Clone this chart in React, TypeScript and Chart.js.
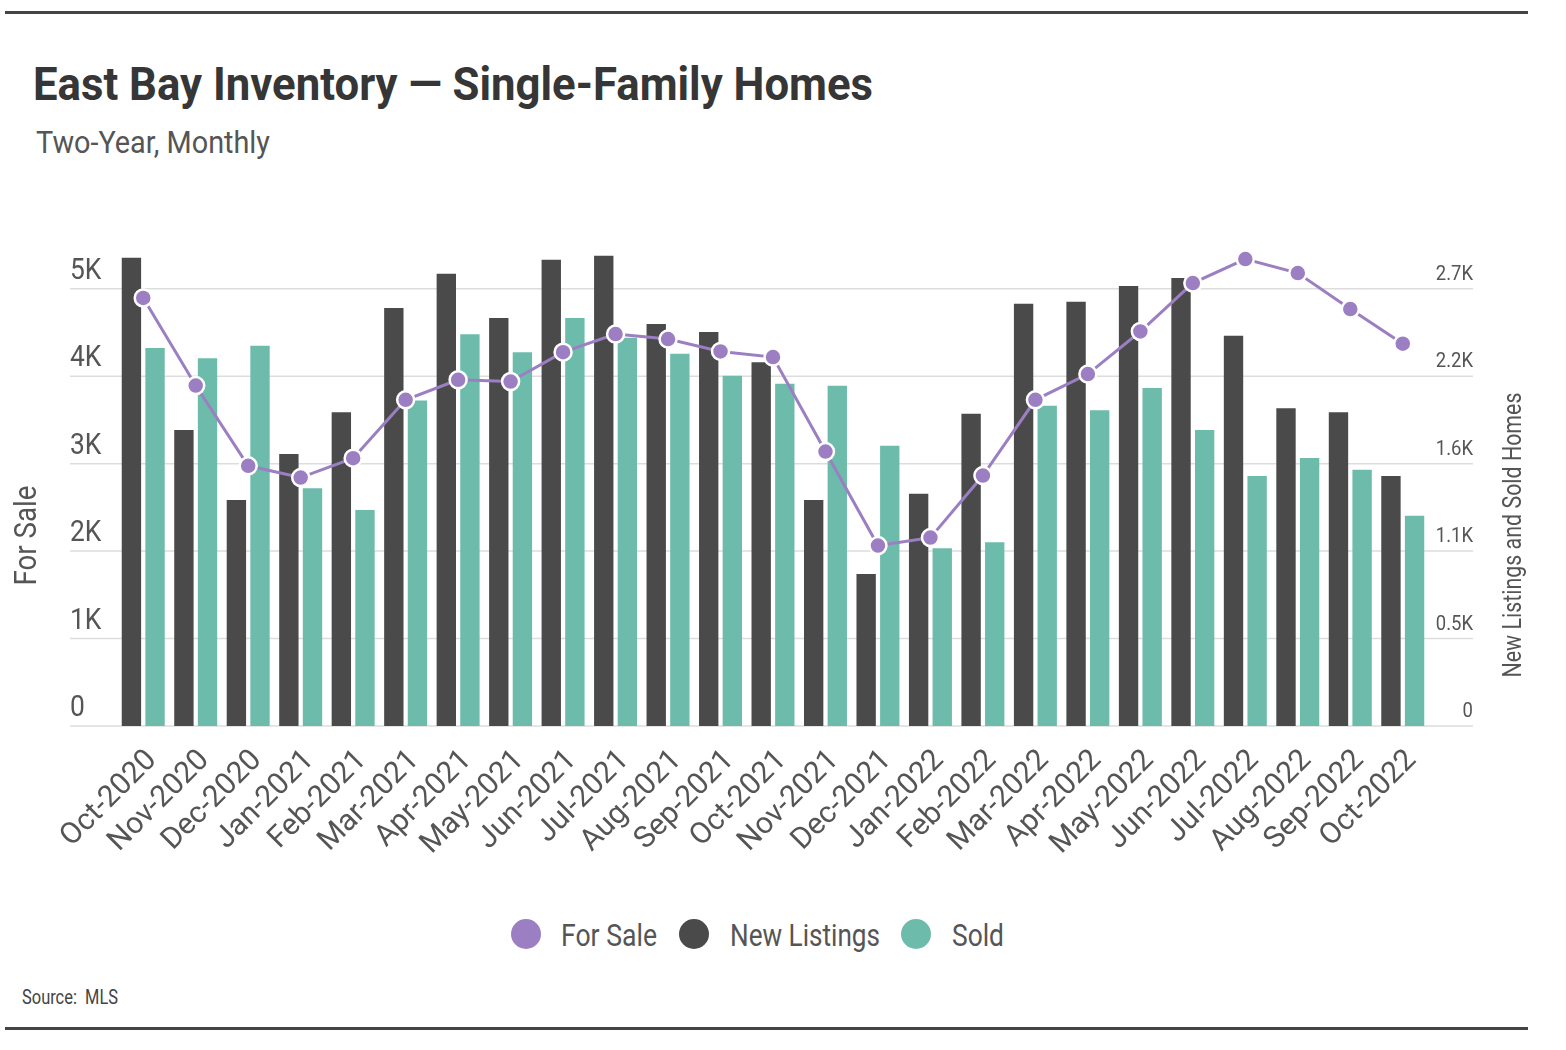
import React, { useEffect, useRef } from 'react';
import { Chart, registerables } from 'chart.js';

Chart.register(...registerables);

const MONTHS = ['Oct-2020', 'Nov-2020', 'Dec-2020', 'Jan-2021', 'Feb-2021', 'Mar-2021', 'Apr-2021', 'May-2021', 'Jun-2021', 'Jul-2021', 'Aug-2021', 'Sep-2021', 'Oct-2021', 'Nov-2021', 'Dec-2021', 'Jan-2022', 'Feb-2022', 'Mar-2022', 'Apr-2022', 'May-2022', 'Jun-2022', 'Jul-2022', 'Aug-2022', 'Sep-2022', 'Oct-2022'];
const FOR_SALE = [4894, 3893, 2975, 2841, 3062, 3730, 3959, 3939, 4275, 4481, 4424, 4283, 4218, 3138, 2063, 2154, 2864, 3730, 4024, 4511, 5065, 5339, 5179, 4767, 4371];
const NEW_LISTINGS = [2910, 1840, 1405, 1691, 1950, 2597, 2810, 2535, 2898, 2922, 2498, 2448, 2261, 1405, 945, 1443, 1940, 2624, 2636, 2734, 2784, 2425, 1975, 1950, 1554];
const SOLD = [2349, 2286, 2363, 1478, 1343, 2023, 2435, 2323, 2535, 2413, 2313, 2176, 2127, 2114, 1741, 1105, 1142, 1990, 1963, 2100, 1840, 1554, 1666, 1592, 1306];
const LEFT_TICKS = [0, 1000, 2000, 3000, 4000, 5000];
const LEFT_TICK_LABELS = ['0', '1K', '2K', '3K', '4K', '5K'];
const RIGHT_TICKS = [0, 543.5, 1087, 1630.5, 2174, 2717.5];
const RIGHT_TICK_LABELS = ['0', '0.5K', '1.1K', '1.6K', '2.2K', '2.7K'];
const LEFT_MAX = 5500;
const RIGHT_MAX = 2989.25;

const FONT = 'Roboto, "Noto Sans", sans-serif';
const PURPLE = '#9c7fc2';
const DARK = '#4a4a4a';
const TEAL = '#6dbcab';
const TEXT = '#555555';

const CANVAS_TOP = 180;
const CANVAS_W = 1566;
const CANVAS_H = 700;

let measureCtx: CanvasRenderingContext2D | null = null;
function measure(text: string, font: string): number {
  if (!measureCtx) measureCtx = document.createElement('canvas').getContext('2d');
  measureCtx!.font = font;
  return measureCtx!.measureText(text).width;
}

function fillFitted(ctx: CanvasRenderingContext2D, text: string, width: number) {
  const w = ctx.measureText(text).width;
  const s = width / w;
  ctx.save();
  ctx.scale(s, 1);
  ctx.fillText(text, 0, 0);
  ctx.restore();
}

const axisPlugin = {
  id: 'customAxes',
  beforeDatasetsDraw(chart: any) {
    const ctx = chart.ctx as CanvasRenderingContext2D;
    const yL = chart.scales.yL;
    const yR = chart.scales.yR;
    ctx.save();
    LEFT_TICKS.forEach((v, i) => {
      const y = yL.getPixelForValue(v);
      ctx.strokeStyle = '#dddddd';
      ctx.lineWidth = 1.5;
      ctx.beginPath();
      ctx.moveTo(70, y);
      ctx.lineTo(1473, y);
      ctx.stroke();
      ctx.fillStyle = TEXT;
      ctx.font = `30px ${FONT}`;
      ctx.textAlign = 'left';
      ctx.textBaseline = 'alphabetic';
      ctx.save();
      ctx.translate(70, y - 10);
      ctx.scale(0.88, 1);
      ctx.fillText(LEFT_TICK_LABELS[i], 0, 0);
      ctx.restore();
    });
    RIGHT_TICKS.forEach((v, i) => {
      const y = yR.getPixelForValue(v);
      ctx.fillStyle = TEXT;
      ctx.font = `21px ${FONT}`;
      ctx.textAlign = 'right';
      ctx.textBaseline = 'alphabetic';
      ctx.save();
      ctx.translate(1473, y - 9);
      ctx.scale(0.88, 1);
      ctx.fillText(RIGHT_TICK_LABELS[i], 0, 0);
      ctx.restore();
    });
    // axis titles (both read bottom-to-top)
    const midY = (chart.chartArea.top + chart.chartArea.bottom) / 2 + 50;
    ctx.fillStyle = TEXT;
    ctx.textAlign = 'left';
    ctx.textBaseline = 'middle';
    ctx.save();
    ctx.translate(28, midY + 50);
    ctx.rotate(-Math.PI / 2);
    ctx.font = `32px ${FONT}`;
    fillFitted(ctx, 'For Sale', 100);
    ctx.restore();
    ctx.save();
    ctx.translate(1514, midY + 142);
    ctx.rotate(-Math.PI / 2);
    ctx.font = `26px ${FONT}`;
    fillFitted(ctx, 'New Listings and Sold Homes', 285);
    ctx.restore();
    ctx.restore();
  },
};

function InventoryChart() {
  const ref = useRef<HTMLCanvasElement | null>(null);
  useEffect(() => {
    if (!ref.current) return;
    const chart = new Chart(ref.current, {
      type: 'bar',
      data: {
        labels: MONTHS,
        datasets: [
          {
            type: 'line',
            label: 'For Sale',
            data: FOR_SALE,
            yAxisID: 'yL',
            borderColor: PURPLE,
            borderWidth: 3,
            pointRadius: 8.5,
            pointBackgroundColor: PURPLE,
            pointBorderColor: '#ffffff',
            pointBorderWidth: 2.5,
            tension: 0,
            order: 0,
          } as any,
          {
            type: 'bar',
            label: 'New Listings',
            data: NEW_LISTINGS,
            yAxisID: 'yR',
            backgroundColor: DARK,
            categoryPercentage: 0.9,
            barPercentage: 0.82,
            order: 1,
          },
          {
            type: 'bar',
            label: 'Sold',
            data: SOLD,
            yAxisID: 'yR',
            backgroundColor: TEAL,
            categoryPercentage: 0.9,
            barPercentage: 0.82,
            order: 1,
          },
        ],
      },
      options: {
        animation: false,
        responsive: false,
        devicePixelRatio: 1,
        layout: { padding: { left: 117, right: 137, top: 65, bottom: 0 } },
        plugins: { legend: { display: false }, tooltip: { enabled: false } },
        scales: {
          x: {
            grid: { display: false },
            border: { display: false },
            ticks: {
              color: TEXT,
              font: { family: FONT, size: 30 },
              minRotation: 45,
              maxRotation: 45,
              autoSkip: false,
              padding: 9,
              labelOffset: 9,
            },
            afterFit: (s: any) => {
              s.height = 154;
            },
          },
          yL: { display: false, position: 'left', min: 0, max: LEFT_MAX },
          yR: { display: false, position: 'right', min: 0, max: RIGHT_MAX },
        },
      },
      plugins: [axisPlugin],
    });
    return () => chart.destroy();
  }, []);
  return (
    <canvas
      ref={ref}
      width={CANVAS_W}
      height={CANVAS_H}
      style={{ position: 'absolute', left: 0, top: CANVAS_TOP, width: CANVAS_W, height: CANVAS_H }}
    />
  );
}

function FitText(props: { text: string; left: number; top: number; width: number; size: number; weight?: number; color: string }) {
  const weight = props.weight || 400;
  const w = measure(props.text, `${weight} ${props.size}px ${FONT}`);
  const s = w > 0 ? props.width / w : 1;
  return (
    <div
      style={{
        position: 'absolute',
        left: props.left,
        top: props.top,
        fontSize: props.size,
        lineHeight: `${props.size}px`,
        fontWeight: weight,
        color: props.color,
        whiteSpace: 'pre',
        transformOrigin: 'left top',
        transform: `scaleX(${s})`,
      }}
    >
      {props.text}
    </div>
  );
}

const LEGEND = [
  { label: 'For Sale', color: PURPLE, cx: 526, tx: 561, tw: 96 },
  { label: 'New Listings', color: DARK, cx: 694, tx: 730, tw: 150 },
  { label: 'Sold', color: TEAL, cx: 916, tx: 952, tw: 52 },
];

export default function App() {
  return (
    <div style={{ position: 'absolute', left: 0, top: 0, width: 1566, height: 1050, background: '#fff', fontFamily: FONT }}>
      <div style={{ position: 'absolute', left: 5, top: 11, width: 1523, height: 3, background: '#444' }} />
      <FitText text="East Bay Inventory — Single-Family Homes" left={33} top={61} width={840} size={46} weight={700} color="#363636" />
      <FitText text="Two-Year, Monthly" left={36} top={127} width={234} size={31} color="#555" />
      <InventoryChart />
      {LEGEND.map((l) => (
        <React.Fragment key={l.label}>
          <div style={{ position: 'absolute', left: l.cx - 15, top: 919, width: 30, height: 30, borderRadius: '50%', background: l.color }} />
          <FitText text={l.label} left={l.tx} top={920} width={l.tw} size={31} color="#555" />
        </React.Fragment>
      ))}
      <FitText text="Source:  MLS" left={22} top={987} width={96} size={20} color="#444" />
      <div style={{ position: 'absolute', left: 5, top: 1027, width: 1523, height: 3, background: '#444' }} />
    </div>
  );
}
